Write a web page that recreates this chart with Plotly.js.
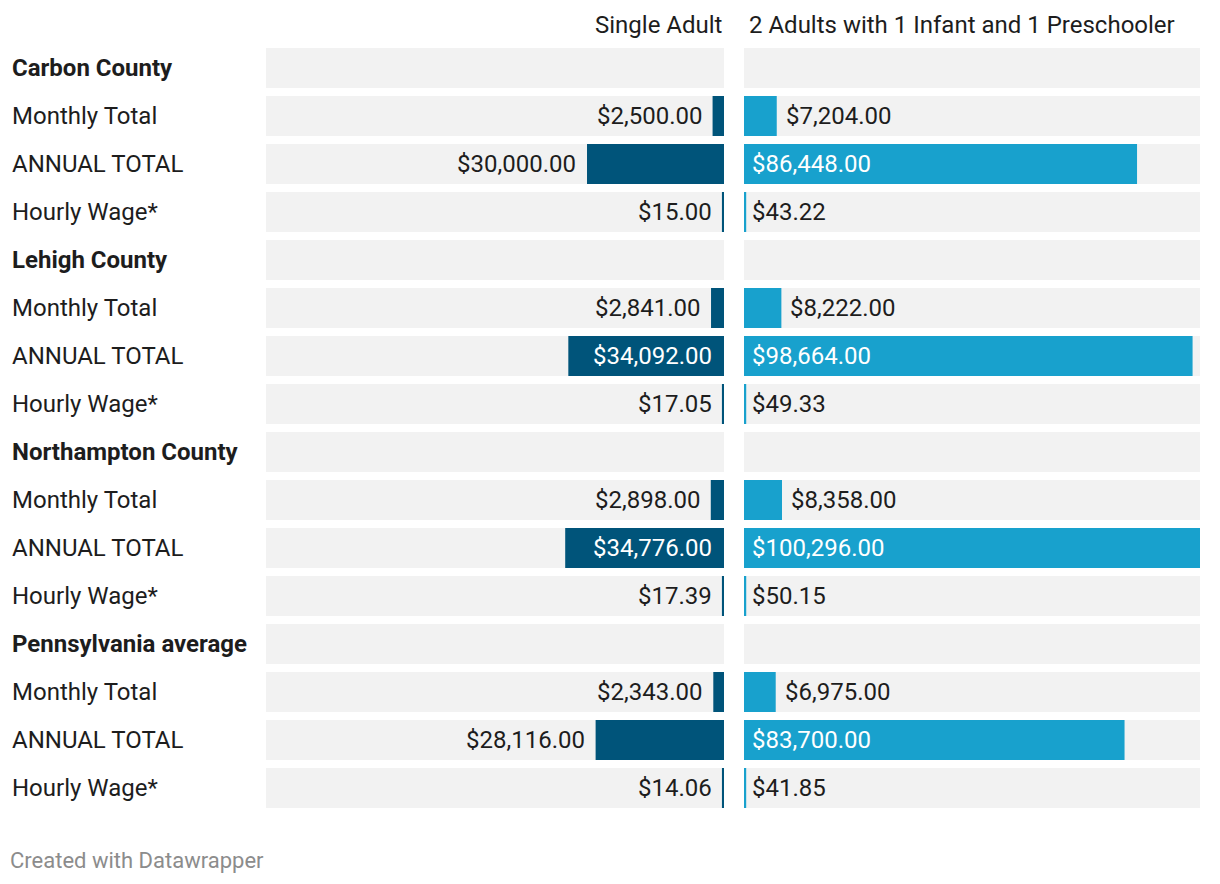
<!DOCTYPE html>
<html>
<head>
<meta charset="utf-8">
<script src="https://cdn.plot.ly/plotly-3.0.1.min.js"></script>
<style>
  html, body { margin: 0; padding: 0; background: #ffffff; }
  #chart { width: 1220px; height: 884px; }
</style>
</head>
<body>
<div id="chart"></div>
<script>
// ---- data ----
const counties = ["Carbon County", "Lehigh County", "Northampton County", "Pennsylvania average"];
const measures = ["Monthly Total", "ANNUAL TOTAL", "Hourly Wage*"];
const columnTitles = ["Single Adult", "2 Adults with 1 Infant and 1 Preschooler"];

const singleMonthly = [2500, 2841, 2898, 2343];
const singleAnnual  = [30000, 34092, 34776, 28116];
const singleHourly  = [15.00, 17.05, 17.39, 14.06];

const familyMonthly = [7204, 8222, 8358, 6975];
const familyAnnual  = [86448, 98664, 100296, 83700];
const familyHourly  = [43.22, 49.33, 50.15, 41.85];

// ---- build rows ----
const rowLabels = [], rowBold = [], singleVals = [], familyVals = [];
counties.forEach((c, i) => {
  rowLabels.push(c); rowBold.push(true); singleVals.push(null); familyVals.push(null);
  const s = [singleMonthly[i], singleAnnual[i], singleHourly[i]];
  const f = [familyMonthly[i], familyAnnual[i], familyHourly[i]];
  measures.forEach((m, j) => {
    rowLabels.push(m); rowBold.push(false); singleVals.push(s[j]); familyVals.push(f[j]);
  });
});
const idx = rowLabels.map((_, i) => i);
const isHourly = rowLabels.map(l => l === measures[2]);

const xmax = Math.max(...singleAnnual, ...familyAnnual);

// ---- layout geometry ----
const W = 1220, H = 884;
const mL = 266, mR = 20, mT = 48, mB = 76;
const plotW = W - mL - mR;
const plotH = H - mT - mB;
const leftPanelPx = 458, gapPx = 20;
const rightPanelPx = plotW - leftPanelPx - gapPx;
const nRows = rowLabels.length;
const barFrac = 40 / 48;
// minimum-width (tiny) bars are drawn with a 4px outline (half clipped at the base),
// so their body is shortened by the outline overhang
const thinLine = 4;
const thinFrac = (40 - thinLine) / 48;

const FONT = "Roboto, 'Noto Sans', sans-serif";
const FS = 24;
const TEXT = "#1d1d1d";
const DARK = "#00547a";
const LIGHT = "#18a1cd";
const GRAY = "#f2f2f2";

const fmt = v => "$" + v.toLocaleString("en-US", {minimumFractionDigits: 2, maximumFractionDigits: 2});

const bg = idx.map(() => xmax);
const barWidths = isHourly.map(h => h ? thinFrac : barFrac);
const lineWidths = isHourly.map(h => h ? thinLine : 0);

const traces = [
  {type: "bar", orientation: "h", y: idx, x: bg, xaxis: "x", yaxis: "y",
   marker: {color: GRAY}, width: barFrac, hoverinfo: "skip"},
  {type: "bar", orientation: "h", y: idx, x: bg, xaxis: "x2", yaxis: "y",
   marker: {color: GRAY}, width: barFrac, hoverinfo: "skip"},
  {type: "bar", orientation: "h", y: idx, x: singleVals, xaxis: "x", yaxis: "y",
   marker: {color: DARK, line: {color: DARK, width: lineWidths}}, width: barWidths},
  {type: "bar", orientation: "h", y: idx, x: familyVals, xaxis: "x2", yaxis: "y",
   marker: {color: LIGHT, line: {color: LIGHT, width: lineWidths}}, width: barWidths}
];

const annotations = [];
rowLabels.forEach((l, i) => {
  annotations.push({
    xref: "paper", yref: "y", x: (10 - mL) / plotW, y: i, xanchor: "left", yanchor: "middle",
    text: rowBold[i] ? "<b>" + l + "</b>" : l, showarrow: false,
    font: {family: FONT, size: FS, color: TEXT}
  });
});
annotations.push({
  xref: "paper", yref: "paper", x: (leftPanelPx + 1) / plotW, y: 1 + 23 / plotH,
  xanchor: "right", yanchor: "middle", text: columnTitles[0], showarrow: false,
  font: {family: FONT, size: FS, color: TEXT}
});
annotations.push({
  xref: "paper", yref: "paper", x: (leftPanelPx + gapPx + 3) / plotW, y: 1 + 23 / plotH,
  xanchor: "left", yanchor: "middle", text: columnTitles[1], showarrow: false,
  font: {family: FONT, size: FS, color: TEXT}
});
function addValueLabels(vals, axis, panelPx, side) {
  vals.forEach((v, i) => {
    if (v === null) return;
    const t = fmt(v);
    const barPx = Math.max(2, v * panelPx / xmax);
    const labelW = t.length * FS * 0.52;
    const inside = barPx > labelW + 24;
    const tiny = barPx <= 2 ? 1 : 0;
    let a = {xref: axis, yref: "y", y: i, yanchor: "middle", text: t, showarrow: false,
             font: {family: FONT, size: FS, color: inside ? "#ffffff" : TEXT}};
    if (side === "left") {
      a.xanchor = "right";
      a.x = inside ? 0 : v;
      a.xshift = inside ? -10 : -(9 + tiny);
    } else {
      a.xanchor = "left";
      a.x = inside ? 0 : v;
      a.xshift = inside ? 6 : (7 + tiny - 2 * tiny);
    }
    annotations.push(a);
  });
}
addValueLabels(singleVals, "x", leftPanelPx, "left");
addValueLabels(familyVals, "x2", rightPanelPx, "right");

annotations.push({
  xref: "paper", yref: "paper", x: (8 - mL) / plotW, y: -(860 - (H - mB)) / plotH,
  xanchor: "left", yanchor: "middle", text: "Created with Datawrapper", showarrow: false,
  font: {family: FONT, size: 22, color: "#8c8c8c"}
});

const layout = {
  width: W, height: H,
  margin: {l: mL, r: mR, t: mT, b: mB, pad: 0},
  paper_bgcolor: "#ffffff", plot_bgcolor: "#ffffff",
  barmode: "overlay", showlegend: false,
  xaxis: {domain: [0, leftPanelPx / plotW], range: [xmax, 0], visible: false, fixedrange: true},
  xaxis2: {domain: [(leftPanelPx + gapPx) / plotW, 1], range: [0, xmax], visible: false, fixedrange: true},
  yaxis: {range: [nRows - 1 + barFrac / 2, -barFrac / 2], visible: false, fixedrange: true},
  annotations: annotations,
  font: {family: FONT, size: FS, color: TEXT}
};

Plotly.newPlot("chart", traces, layout, {displayModeBar: false});
</script>
</body>
</html>
